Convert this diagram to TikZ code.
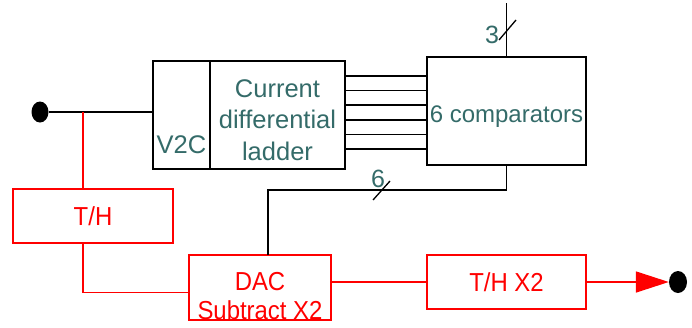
\documentclass[tikz,border=0pt]{standalone}
\usepackage{fontspec}
\setmainfont{Liberation Sans}
\usetikzlibrary{shapes.geometric,arrows.meta,positioning}
\definecolor{lbl}{HTML}{346B69}

\begin{document}
\begin{tikzpicture}[
  x=1pt, y=-1pt,
  box/.style={draw,line width=1.6pt,rectangle,inner sep=0pt,outer sep=0pt,align=center,text=lbl,font=\fontsize{25.5}{31.5}\selectfont},
  rbox/.style={draw=red,line width=1.6pt,rectangle,inner sep=0pt,outer sep=0pt,align=center,text=red,font=\fontsize{26}{29}\selectfont\addfontfeature{FakeStretch=0.92}},
  dot/.style={ellipse,fill=black,draw=none,inner sep=0pt},
  wire/.style={line width=1.6pt},
  rwire/.style={line width=1.6pt,red},
  arrow/.style={-{Triangle[length=33pt,width=21pt]},line width=1.6pt,red},
  buslbl/.style={text=lbl,font=\fontsize{25}{30}\selectfont,inner sep=0pt}
]
  \useasboundingbox (0,0) rectangle (692,327);

  \node (in) [dot,minimum width=17pt,minimum height=21pt] at (40,112) {};
  \node (v2c) [box,minimum width=57pt,minimum height=108pt,text height=92pt,text depth=16pt] at (181.5,115) {V2C};
  \node (ladder) [box,minimum width=135pt,minimum height=108pt,right=0pt of v2c] {\rule{0pt}{28pt}Current\\differential\\ladder};
  \node (cmp) [box,minimum width=159pt,minimum height=108pt,text height=65pt,text depth=43pt,font=\fontsize{24}{29}\selectfont] at (506.5,111) {6 comparators};
  \node (th) [rbox,minimum width=160pt,minimum height=54pt] at (93,216) {T/H};
  \node (dac) [rbox,minimum width=142pt,minimum height=65pt] at (260,287.5) {\rule{0pt}{36pt}DAC\\Subtract X2};
  \node (th2) [rbox,minimum width=159pt,minimum height=54pt] at (506.5,282) {T/H X2};
  \node (out) [dot,minimum width=18pt,minimum height=22pt] at (678,282) {};

  \coordinate (tap) at (83,112);
  \coordinate (top3) at (506.5,3);

  \draw[wire] (in) -- (in -| v2c.west);
  \draw[rwire] (tap) -- (tap |- th.north);
  \draw[rwire] (th.south -| tap) |- ([yshift=-5pt]dac.west);
  \foreach \y in {76,90.6,105.2,119.8,134.4,149}
    \draw[wire] (ladder.east |- 0,\y) -- (cmp.west |- 0,\y);

  % 3-bit and 6-bit buses
  \draw[wire] (cmp.north) -- (top3);
  \draw[line width=1.3pt] (499,40) -- (516,20);
  \node (n3) [buslbl] at (492,35) {3};
  \draw[wire] (cmp.south) -- ++(0,25) -| ([xshift=8pt]dac.north);
  \draw[line width=1.3pt] (373,200) -- (390,181);
  \node (n6) [buslbl] at (378,179) {6};

  \draw[rwire] (dac.east |- th2.west) -- (th2.west);
  \draw[arrow] (th2.east) -- (out.west);
\end{tikzpicture}
\end{document}
